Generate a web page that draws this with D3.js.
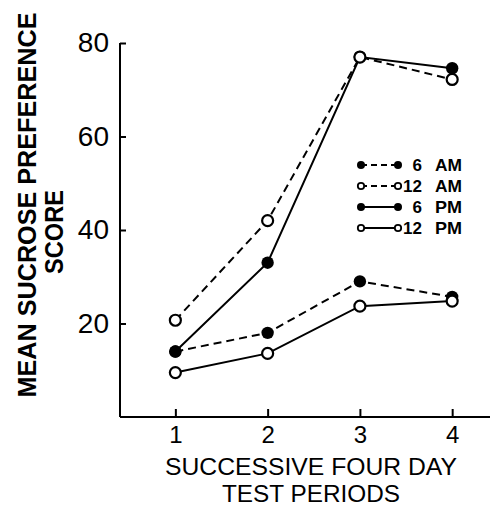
<!DOCTYPE html>
<html>
<head>
<meta charset="utf-8">
<script src="https://cdn.jsdelivr.net/npm/d3@7"></script>
<style>
  html, body { margin: 0; padding: 0; background: #fff; }
  svg { display: block; }
  text { font-family: "Liberation Sans", Arial, Helvetica, sans-serif; fill: #000; }
</style>
</head>
<body>
<svg id="chart" width="497" height="508"></svg>
<script>
// ---- data ----
const periods = [1, 2, 3, 4];
const periodLabels = ["1", "2", "3", "4"];
const yTicks = [20, 40, 60, 80];
const seriesNames = ["6 AM", "12 AM", "6 PM", "12 PM"];
const am6  = [14, 18, 29, 25.7];
const am12 = [20.7, 42, 77, 72.2];
const pm6  = [14, 33, 77, 74.6];
const pm12 = [9.5, 13.6, 23.7, 24.8];
const seriesValues = [am6, am12, pm6, pm12];
const seriesDashed = [true, true, false, false];
const seriesFilled = [true, false, true, false];

// ---- layout ----
const svg = d3.select("#chart");
const x = d3.scaleLinear().domain([0.4, 4.41]).range([120, 490]);
const y = d3.scaleLinear().domain([0, 80]).range([417, 43]);

const series = seriesNames.map((name, i) => ({
  name,
  dashed: seriesDashed[i],
  filled: seriesFilled[i],
  values: periods.map((p, j) => ({ p, v: seriesValues[i][j] }))
}));

// axes lines
svg.append("line")
  .attr("x1", x(0.4)).attr("x2", x(0.4))
  .attr("y1", y(0)).attr("y2", y(80))
  .attr("stroke", "#000").attr("stroke-width", 2);
svg.append("line")
  .attr("x1", x(0.4)).attr("x2", x(4.41))
  .attr("y1", y(0)).attr("y2", y(0))
  .attr("stroke", "#000").attr("stroke-width", 2);

const yAxis = svg.append("g")
  .attr("transform", `translate(${x(0.4)},0)`)
  .call(d3.axisLeft(y).tickValues(yTicks).tickFormat(d3.format("d"))
    .tickSizeInner(-6).tickSizeOuter(0).tickPadding(11));
yAxis.select(".domain").remove();
yAxis.selectAll(".tick line").attr("stroke-width", 2);
yAxis.selectAll(".tick text")
  .style("font-family", "'Liberation Sans', Arial, sans-serif")
  .style("font-size", "28px");

const xAxis = svg.append("g")
  .attr("transform", `translate(0,${y(0)})`)
  .call(d3.axisBottom(x).tickValues(periods).tickFormat((d, i) => periodLabels[i])
    .tickSizeInner(-8).tickSizeOuter(0).tickPadding(9));
xAxis.select(".domain").remove();
xAxis.selectAll(".tick line").attr("stroke-width", 2);
xAxis.selectAll(".tick text")
  .style("font-family", "'Liberation Sans', Arial, sans-serif")
  .style("font-size", "24px");

// axis titles
svg.append("text")
  .attr("text-anchor", "middle")
  .attr("x", 311).attr("y", 475)
  .style("font-size", "24px")
  .attr("textLength", 292)
  .attr("lengthAdjust", "spacingAndGlyphs")
  .text("SUCCESSIVE FOUR DAY");
svg.append("text")
  .attr("text-anchor", "middle")
  .attr("x", 311).attr("y", 502)
  .style("font-size", "24px")
  .attr("textLength", 178)
  .attr("lengthAdjust", "spacingAndGlyphs")
  .text("TEST PERIODS");

svg.append("text")
  .attr("text-anchor", "middle")
  .attr("transform", "translate(36,205) rotate(-90)")
  .style("font-size", "26px")
  .style("font-weight", "bold")
  .attr("textLength", 385)
  .attr("lengthAdjust", "spacingAndGlyphs")
  .text("MEAN SUCROSE PREFERENCE");
svg.append("text")
  .attr("text-anchor", "middle")
  .attr("transform", "translate(63,232) rotate(-90)")
  .style("font-size", "26px")
  .style("font-weight", "bold")
  .attr("textLength", 84)
  .attr("lengthAdjust", "spacingAndGlyphs")
  .text("SCORE");

// lines
const line = d3.line().x(d => x(d.p)).y(d => y(d.v));
svg.append("g").selectAll("path")
  .data(series)
  .join("path")
  .attr("d", d => line(d.values))
  .attr("fill", "none")
  .attr("stroke", "#000")
  .attr("stroke-width", 2)
  .attr("stroke-dasharray", d => d.dashed ? "8,5" : null);

// markers: filled first, open on top
const order = series.filter(s => s.filled).concat(series.filter(s => !s.filled));
order.forEach(s => {
  svg.append("g").selectAll("circle")
    .data(s.values)
    .join("circle")
    .attr("cx", d => x(d.p))
    .attr("cy", d => y(d.v))
    .attr("r", s.filled ? 6.2 : 5.5)
    .attr("fill", s.filled ? "#000" : "#fff")
    .attr("stroke", "#000")
    .attr("stroke-width", s.filled ? 0 : 2.2);
});

// legend
const legend = svg.append("g");
series.forEach((s, i) => {
  const cy = 165 + i * 21;
  const g = legend.append("g");
  g.append("line")
    .attr("x1", 361).attr("x2", 398)
    .attr("y1", cy).attr("y2", cy)
    .attr("stroke", "#000").attr("stroke-width", 2)
    .attr("stroke-dasharray", s.dashed ? "6,4" : null);
  [361, 398].forEach(cx => {
    g.append("circle")
      .attr("cx", cx).attr("cy", cy)
      .attr("r", s.filled ? 4 : 3.2)
      .attr("fill", s.filled ? "#000" : "#fff")
      .attr("stroke", "#000")
      .attr("stroke-width", s.filled ? 0 : 1.8);
  });
  const parts = s.name.split(" ");
  g.append("text")
    .attr("x", 422).attr("y", cy + 6)
    .attr("text-anchor", "end")
    .style("font-size", "17px").style("font-weight", "bold")
    .text(parts[0]);
  g.append("text")
    .attr("x", 435).attr("y", cy + 6)
    .style("font-size", "17px").style("font-weight", "bold")
    .attr("textLength", 27)
    .attr("lengthAdjust", "spacingAndGlyphs")
    .text(parts[1]);
});
</script>
</body>
</html>
